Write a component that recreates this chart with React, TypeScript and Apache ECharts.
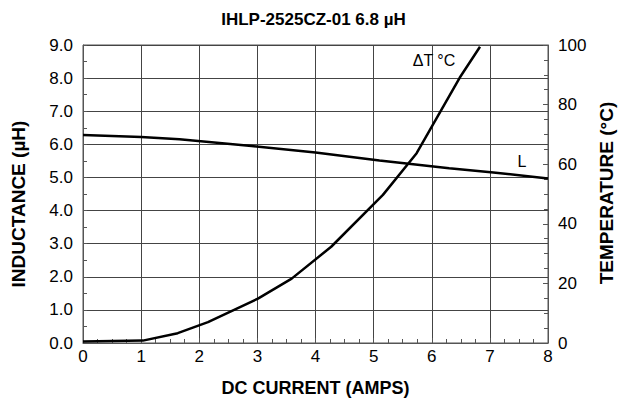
import React, { useEffect, useRef } from "react";
import * as echarts from "echarts";

const title = "IHLP-2525CZ-01 6.8 µH";
const xName = "DC CURRENT (AMPS)";
const leftName = "INDUCTANCE (µH)";
const rightName = "TEMPERATURE (°C)";

// Inductance curve (A, µH)
const lCurrent = [0, 1, 1.66, 2.9, 4, 5.1, 6.3, 7.06, 8];
const lValues = [6.28, 6.22, 6.15, 5.95, 5.75, 5.51, 5.28, 5.15, 4.97];

// Temperature rise curve (A, °C)
const tCurrent = [0, 1.03, 1.63, 2.15, 3.01, 3.59, 4.27, 5.16, 5.74, 6.48, 6.83];
const tValues = [0.5, 0.8, 3.3, 7, 14.9, 21.6, 32.3, 49.7, 63.7, 89, 99.4];

const FONT = "'Liberation Sans', Arial, Helvetica, sans-serif";

export default function App() {
  const ref = useRef<HTMLDivElement>(null);
  useEffect(() => {
    if (!ref.current) return;
    const chart = echarts.init(ref.current, undefined, { renderer: "svg" });
    const axisLine = { show: true, lineStyle: { color: "#555", width: 1 } };
    chart.setOption({
      animation: false,
      backgroundColor: "#fff",
      textStyle: { fontFamily: FONT },
      title: {
        text: title,
        left: "center",
        top: 6,
        textStyle: { fontFamily: FONT, fontSize: 17, fontWeight: "bold", color: "#000" },
      },
      grid: { left: 83, right: 79, top: 45, bottom: 59, containLabel: false },
      xAxis: {
        type: "value",
        min: 0,
        max: 8,
        interval: 1,
        name: xName,
        nameLocation: "middle",
        nameGap: 36,
        nameTextStyle: { fontFamily: FONT, fontSize: 18, fontWeight: "bold", color: "#000", verticalAlign: "top" },
        axisLine,
        axisTick: { show: true, inside: true, length: 5, lineStyle: { color: "#555" } },
        minorTick: { show: true, splitNumber: 4, length: 4, lineStyle: { color: "#555" } },
        axisLabel: { fontFamily: FONT, fontSize: 17, color: "#000", margin: 5 },
        splitLine: { show: true, lineStyle: { color: "#444", width: 1 } },
      },
      yAxis: [
        {
          type: "value",
          min: 0,
          max: 9,
          interval: 1,
          position: "left",
          axisLine,
          axisTick: { show: true, inside: true, length: 4, lineStyle: { color: "#555" } },
          minorTick: { show: true, splitNumber: 2, length: 4, lineStyle: { color: "#555" } },
          axisLabel: {
            fontFamily: FONT,
            fontSize: 17,
            color: "#000",
            margin: 10,
            formatter: (v: number) => v.toFixed(1),
          },
          splitLine: { show: true, lineStyle: { color: "#444", width: 1 } },
        },
        {
          type: "value",
          min: 0,
          max: 100,
          interval: 20,
          position: "right",
          axisLine,
          axisTick: { show: true, inside: true, length: 5, lineStyle: { color: "#555" } },
          minorTick: { show: true, splitNumber: 4, length: 4, lineStyle: { color: "#555" } },
          axisLabel: { fontFamily: FONT, fontSize: 17, color: "#000", margin: 10 },
          splitLine: { show: false },
        },
      ],
      graphic: [
        {
          type: "rect",
          shape: { x: 83, y: 45, width: 465, height: 298 },
          style: { fill: "none", stroke: "#555", lineWidth: 1 },
          silent: true,
          z: 0,
        },
        {
          type: "text",
          x: 18,
          y: 204,
          rotation: Math.PI / 2,
          style: { text: leftName, font: `bold 19px ${FONT}`, fill: "#000", align: "center", verticalAlign: "middle" },
          z: 10,
        },
        {
          type: "text",
          x: 606,
          y: 193,
          rotation: Math.PI / 2,
          style: { text: rightName, font: `bold 19px ${FONT}`, fill: "#000", align: "center", verticalAlign: "middle" },
          z: 10,
        },
        {
          type: "text",
          x: 434,
          y: 60,
          style: { text: "ΔT °C", font: `16px ${FONT}`, fill: "#000", align: "center", verticalAlign: "middle" },
          z: 10,
        },
        {
          type: "text",
          x: 522,
          y: 161,
          style: { text: "L", font: `16px ${FONT}`, fill: "#000", align: "center", verticalAlign: "middle" },
          z: 10,
        },
      ],
      series: [
        {
          type: "line",
          yAxisIndex: 0,
          data: lCurrent.map((x, i) => [x, lValues[i]]),
          symbol: "none",
          lineStyle: { color: "#000", width: 2.5 },
          z: 5,
        },
        {
          type: "line",
          yAxisIndex: 1,
          data: tCurrent.map((x, i) => [x, tValues[i]]),
          symbol: "none",
          lineStyle: { color: "#000", width: 2.5 },
          z: 5,
        },
      ],
    });
    return () => chart.dispose();
  }, []);
  return <div ref={ref} style={{ width: 627, height: 402, position: "absolute", left: 0, top: 0 }} />;
}
